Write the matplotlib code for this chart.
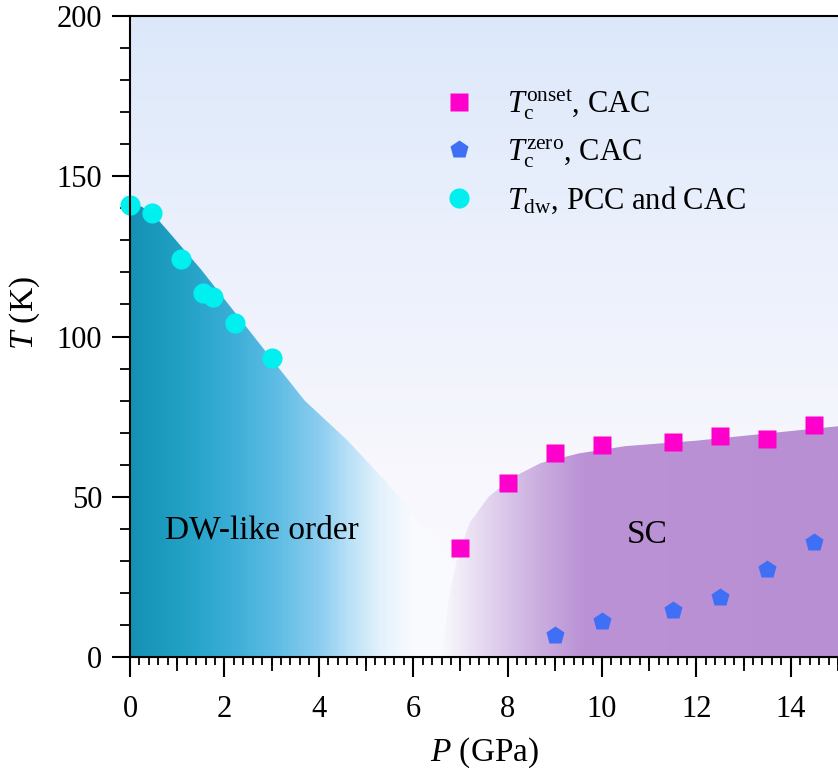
#!/usr/bin/env python3
"""
plot.py

Pressure-temperature phase diagram: DW-like order and SC dome with CAC / PCC data.
"""

import numpy as np
import matplotlib
matplotlib.use("Agg")
import matplotlib.pyplot as plt
from matplotlib.colors import LinearSegmentedColormap
from matplotlib.patches import Polygon
from matplotlib.lines import Line2D
from matplotlib.ticker import MultipleLocator, FixedLocator, NullLocator

# ===============================
# data
# ===============================
# T_c onset, CAC
P_onset = [7.0, 8.0, 9.0, 10.0, 11.5, 12.5, 13.5, 14.5]
T_onset = [34.0, 54.4, 63.5, 66.1, 67.0, 69.0, 67.9, 72.4]

# T_c zero, CAC
P_zero = [9.0, 10.0, 11.5, 12.5, 13.5, 14.5]
T_zero = [6.9, 11.2, 14.7, 18.8, 27.4, 35.8]

# T_dw, PCC and CAC
P_dw = [0.0, 0.46, 1.08, 1.54, 1.76, 2.22, 3.0]
T_dw = [141.0, 138.4, 124.2, 113.7, 112.4, 104.1, 93.2]

# phase region outlines (shaded areas)
dw_region_P = [0.0, 0.25, 0.5, 0.8, 1.5, 3.0, 3.7, 4.6, 5.4, 8.5, 0.0]
dw_region_T = [141.0, 140.5, 138.0, 133.0, 121.0, 93.0, 80.0, 67.7, 55.0, 0.0, 0.0]

sc_region_P = [6.6, 6.75, 6.95, 7.2, 7.6, 8.1, 8.7, 9.5, 10.5, 12.0, 15.0, 15.0]
sc_region_T = [0.0, 18.0, 32.0, 42.0, 50.0, 56.0, 60.5, 63.5, 65.8, 67.5, 72.0, 0.0]

legend_labels = [r"$T_{\mathrm{c}}^{\mathrm{onset}}$, CAC",
                 r"$T_{\mathrm{c}}^{\mathrm{zero}}$, CAC",
                 r"$T_{\mathrm{dw}}$, PCC and CAC"]

XMAX, YMAX = 15.0, 200.0

# ===============================
# style
# ===============================
plt.rcParams["font.family"] = ["Liberation Serif", "DejaVu Serif"]
plt.rcParams["mathtext.fontset"] = "custom"
plt.rcParams["mathtext.rm"] = "Liberation Serif"
plt.rcParams["mathtext.it"] = "Liberation Serif:italic"
plt.rcParams["mathtext.bf"] = "Liberation Serif:bold"


def gradient_cmap(stops, lo, hi, name):
    """build a colormap from (value, color) stops on [lo, hi]"""
    return LinearSegmentedColormap.from_list(
        name, [((v - lo) / (hi - lo), c) for v, c in stops])


def shade(ax, cmap, region_P, region_T, horizontal=True, zorder=1):
    """fill a region with a gradient clipped to its outline"""
    n = 600
    ramp = np.linspace(0, 1, n)
    if horizontal:
        img = ramp[np.newaxis, :]
    else:
        img = ramp[:, np.newaxis]
    im = ax.imshow(img, cmap=cmap, extent=[0, XMAX, 0, YMAX], origin="lower",
                   aspect="auto", interpolation="bicubic", zorder=zorder)
    if region_P is not None:
        poly = Polygon(np.column_stack([region_P, region_T]), closed=True,
                       transform=ax.transData, facecolor="none", edgecolor="none")
        ax.add_patch(poly)
        im.set_clip_path(poly)
    return im


fig = plt.figure(figsize=(8.38, 7.76), dpi=100)
ax = fig.add_axes([130 / 838, 1 - 657 / 776, 1 - 130 / 838, 641 / 776])

# --- background (vertical) ---
bg_cmap = gradient_cmap([(0, "#fafafe"), (60, "#f7f7fd"), (130, "#ebf0fc"),
                         (200, "#dce8fa")], 0, YMAX, "bg")
shade(ax, bg_cmap, None, None, horizontal=False, zorder=0)

# --- DW-like order region ---
dw_cmap = gradient_cmap([(0, "#1591b4"), (1, "#20a0c3"), (2, "#37acd5"),
                         (3, "#5bbbe3"), (4, "#8ccdf0"), (4.6, "#b8e0f7"),
                         (5.3, "#e4f2fc"), (6.0, "#f9fbfe"), (XMAX, "#f9f9fd")],
                        0, XMAX, "dw")
shade(ax, dw_cmap, dw_region_P, dw_region_T, zorder=1)

# --- SC region ---
sc_cmap = gradient_cmap([(0, "#f9f9fd"), (6.6, "#f9f9fd"), (7.6, "#e2d3ee"),
                         (8.6, "#cbb0e0"), (9.6, "#bb92d5"), (XMAX, "#b88fd3")],
                        0, XMAX, "sc")
shade(ax, sc_cmap, sc_region_P, sc_region_T, zorder=2)

# --- data points ---
c_onset, c_zero, c_dw = "#ff00cc", "#3f6ff5", "#00f0f0"
ax.plot(P_onset, T_onset, ls="none", marker="s", ms=12.5, color=c_onset, mec="none", zorder=5)
ax.plot(P_zero, T_zero, ls="none", marker="p", ms=13.5, color=c_zero, mec="none", zorder=5)
ax.plot(P_dw, T_dw, ls="none", marker="o", ms=14.5, color=c_dw, mec="none", zorder=5, clip_on=False)

# --- phase labels ---
ax.text(0.74, 39.5, "DW-like order", fontsize=24, ha="left", va="center", zorder=6)
ax.text(10.95, 38.0, "SC", fontsize=24, ha="center", va="center", zorder=6)

# --- legend ---
handles = [Line2D([], [], ls="none", marker="s", ms=12.5, color=c_onset, mec="none"),
           Line2D([], [], ls="none", marker="p", ms=13.5, color=c_zero, mec="none"),
           Line2D([], [], ls="none", marker="o", ms=14.5, color=c_dw, mec="none")]
ax.legend(handles, legend_labels, loc="upper left", bbox_to_anchor=(0.4435, 0.889),
          frameon=False, fontsize=22, borderpad=0, handlelength=1.0,
          handletextpad=1.05, labelspacing=0.5, borderaxespad=0)

# --- axes ---
ax.set_xlim(0, XMAX)
ax.set_ylim(0, YMAX)
for side in ("left", "bottom", "top"):
    ax.spines[side].set_linewidth(1.5)
    ax.spines[side].set_zorder(10)
ax.spines["right"].set_visible(False)

ax.xaxis.set_major_locator(MultipleLocator(2))
minor_locs = [round(v, 1) for v in np.arange(0, XMAX + 0.01, 0.2)
              if abs(v / 2 - round(v / 2)) > 1e-6]
ax.xaxis.set_minor_locator(FixedLocator(minor_locs))
ax.yaxis.set_major_locator(MultipleLocator(50))
ax.yaxis.set_minor_locator(MultipleLocator(10))

ax.tick_params(axis="x", which="major", direction="out", length=14.5, width=1.5,
               labelsize=22, pad=13, top=False)
ax.tick_params(axis="x", which="minor", direction="out", length=6, width=1.3, top=False)
ax.tick_params(axis="y", which="major", direction="out", length=13, width=1.5,
               labelsize=22, pad=7, right=False)
ax.tick_params(axis="y", which="minor", direction="out", length=7, width=1.3, right=False)

# medium ticks at odd integers, on a second bottom axis
odd_locs = [float(v) for v in range(1, int(XMAX) + 1, 2)]
sec = ax.secondary_xaxis("bottom")
sec.xaxis.set_major_locator(FixedLocator(odd_locs))
sec.xaxis.set_minor_locator(NullLocator())
sec.tick_params(axis="x", which="major", direction="out", length=10, width=1.3,
                labelbottom=False)
sec.spines["bottom"].set_linewidth(1.5)

ax.set_xlabel(r"$P$ (GPa)", fontsize=24)
ax.set_ylabel(r"$T$ (K)", fontsize=24)
ax.xaxis.set_label_coords(0.501, -0.122)
ax.yaxis.set_label_coords(-0.124, 0.537)

fig.savefig("out.png", dpi=100)
print("saved out.png")
